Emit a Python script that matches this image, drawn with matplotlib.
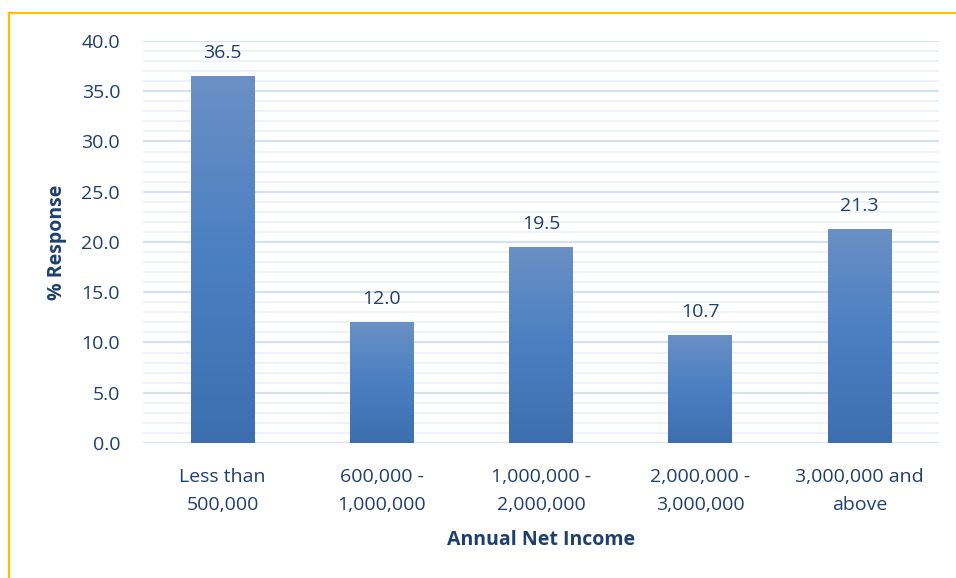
import numpy as np
import matplotlib
matplotlib.use("Agg")
import matplotlib.pyplot as plt
from matplotlib.colors import LinearSegmentedColormap
from matplotlib.lines import Line2D

categories = ["Less than\n500,000", "600,000 -\n1,000,000", "1,000,000 -\n2,000,000",
              "2,000,000 -\n3,000,000", "3,000,000 and\nabove"]
values = [36.5, 12.0, 19.5, 10.7, 21.3]
y_ticks = [0, 5, 10, 15, 20, 25, 30, 35, 40]

text_color = "#1F3F6E"
plt.rcParams["font.family"] = ["Open Sans", "DejaVu Sans"]
fs = 14

fig = plt.figure(figsize=(9.56, 5.78), dpi=100)
ax = fig.add_axes([0.1496, 0.2336, 0.8326, 0.6955])

x = np.arange(len(categories))
bars = ax.bar(x, values, width=0.40, color="none", edgecolor="none", zorder=3)

# vertical gradient fill for each bar
grad_cmap = LinearSegmentedColormap.from_list(
    "bar", ["#3D6FAF", "#4A7FC2", "#6B90C5"])
grad = np.linspace(0, 1, 256).reshape(-1, 1)
for patch in bars.patches:
    x0, y0 = patch.get_x(), patch.get_y()
    w, h = patch.get_width(), patch.get_height()
    im = ax.imshow(grad, cmap=grad_cmap, aspect="auto", origin="lower",
                   extent=(x0, x0 + w, y0, y0 + h), zorder=3)
    im.set_clip_path(patch)

for xi, v in zip(x, values):
    ax.text(xi, v + 1.4, f"{v:.1f}", ha="center", va="bottom",
            fontsize=fs, color=text_color, zorder=4)

ax.set_xlim(-0.5, len(categories) - 0.5)
ax.set_ylim(0, 40)
ax.set_yticks(y_ticks)
ax.set_yticklabels([f"{t:.1f}" for t in y_ticks])
ax.set_yticks(np.arange(0, 41, 1), minor=True)
ax.set_xticks(x)
ax.set_xticklabels(categories, linespacing=1.7)

ax.grid(axis="y", which="major", color="#D6E1F0", linewidth=1.6, zorder=0)
ax.grid(axis="y", which="minor", color="#EEF3F9", linewidth=1.4, zorder=0)
for s in ax.spines.values():
    s.set_visible(False)
ax.tick_params(axis="both", which="both", length=0, labelsize=fs,
               labelcolor=text_color)
ax.tick_params(axis="y", pad=16.5)
ax.tick_params(axis="x", pad=18)

ax.set_ylabel("% Response", fontsize=fs, fontweight="bold",
              color=text_color, labelpad=10)
ax.set_xlabel("Annual Net Income", fontsize=fs, fontweight="bold",
              color=text_color, labelpad=12)

# frame lines along the top and left edges
fig.add_artist(Line2D([8.5 / 956, 1.0], [1 - 12.5 / 578, 1 - 12.5 / 578],
                      transform=fig.transFigure, color="#FFC000", linewidth=1.6))
fig.add_artist(Line2D([8.5 / 956, 8.5 / 956], [0.0, 1 - 12.5 / 578],
                      transform=fig.transFigure, color="#FFC000", linewidth=1.6))

fig.savefig("out.png", dpi=100)
